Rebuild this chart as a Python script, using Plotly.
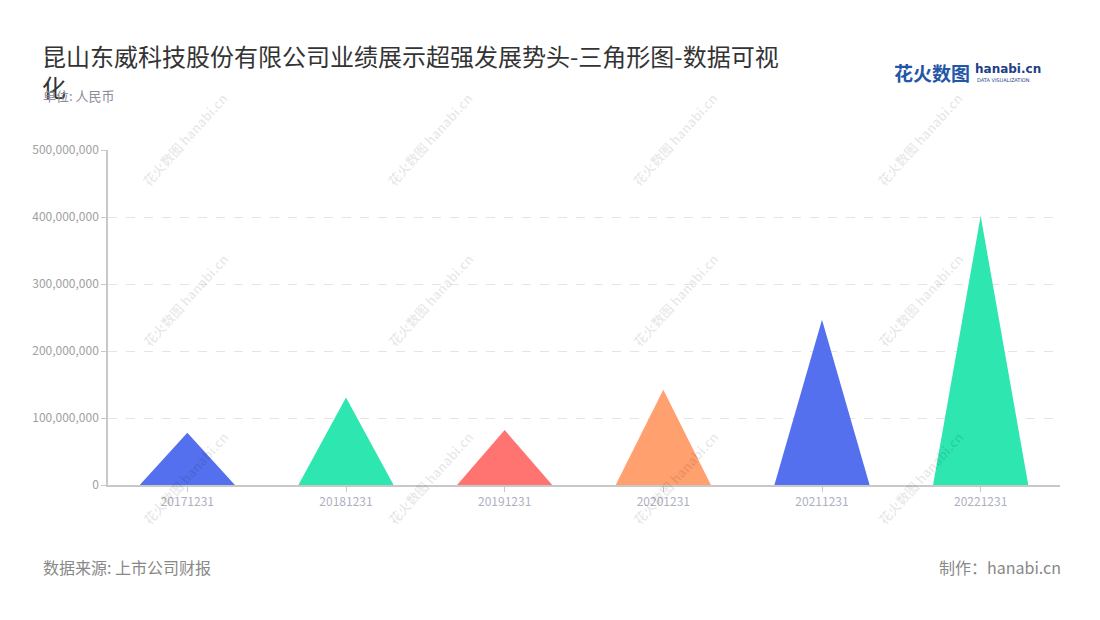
import plotly.graph_objects as go

categories = ["20171231", "20181231", "20191231", "20201231", "20211231", "20221231"]
values = [78000000, 130500000, 82000000, 142000000, 246500000, 401500000]
colors = ["#5470ee", "#2de6b0", "#ff7470", "#ffa06e", "#5470ee", "#2de6b0"]
y_ticks = [0, 100000000, 200000000, 300000000, 400000000, 500000000]

FONT = "Noto Sans CJK SC"
half_width = 0.3

# page offset (body margin) and plot margins
OFF = 8
ML, MR, MT, MB = 100, 48, 142, 143
W, H = 1100, 620
PW = W - ML - MR
PH = H - MT - MB


def px(x):
    return (x - OFF - ML) / PW


def py(y):
    return 1 - (y - OFF - MT) / PH


fig = go.Figure()
for i, (cat, v, c) in enumerate(zip(categories, values, colors)):
    fig.add_trace(go.Scatter(
        x=[i - half_width, i, i + half_width, i - half_width],
        y=[0, v, 0, 0],
        mode="lines",
        fill="toself",
        fillcolor=c,
        line=dict(width=0, color=c),
        hoverinfo="text",
        text=f"{cat}: {v:,}",
        showlegend=False,
    ))

# watermarks
wm_cols = [185, 430, 675, 920]
wm_rows = [140, 300, 478]
for wy in wm_rows:
    for wx in wm_cols:
        fig.add_annotation(
            x=px(wx), y=py(wy), xref="paper", yref="paper",
            text="<b>花火数图</b> <b>hanabi.cn</b>", showarrow=False,
            textangle=-48, font=dict(family=FONT, size=13, color="rgba(0,0,0,0.09)"),
            xanchor="center", yanchor="middle",
        )

fig.update_layout(
    width=W, height=H,
    paper_bgcolor="white", plot_bgcolor="white",
    margin=dict(l=ML, r=MR, t=MT, b=MB),
    font=dict(family=FONT),
    xaxis=dict(
        range=[-0.5, 5.5],
        tickmode="array", tickvals=list(range(len(categories))), ticktext=categories,
        showgrid=False, zeroline=False,
        showline=True, linecolor="#c8c8c8", linewidth=1.5,
        ticks="outside", ticklen=5, tickcolor="#c8c8c8",
        tickfont=dict(family=FONT, size=12, color="#aeb0bf"),
        fixedrange=True,
    ),
    yaxis=dict(
        range=[0, 500000000],
        tickmode="array", tickvals=y_ticks,
        ticktext=[f"{t:,}" for t in y_ticks],
        showgrid=True, gridcolor="#e4e4e4", griddash="dash", gridwidth=1,
        zeroline=False,
        showline=True, linecolor="#c8c8c8", linewidth=1.5,
        ticks="outside", ticklen=5, tickcolor="#c8c8c8",
        tickfont=dict(family=FONT, size=12, color="#a0a0a0"),
        fixedrange=True,
    ),
)

# title
fig.add_annotation(
    x=px(40), y=py(36), xref="paper", yref="paper",
    text="昆山东威科技股份有限公司业绩展示超强发展势头-三角形图-数据可视<br>化",
    showarrow=False, xanchor="left", yanchor="top", align="left",
    font=dict(family=FONT, size=24, color="#333333"),
)
fig.add_annotation(
    x=px(41), y=py(96), xref="paper", yref="paper",
    text="单位: 人民币", showarrow=False, xanchor="left", yanchor="middle",
    font=dict(family=FONT, size=13, color="#8c8c99"),
)
# logo
fig.add_annotation(
    x=px(892), y=py(72), xref="paper", yref="paper",
    text="<b>花火数图</b>", showarrow=False, xanchor="left", yanchor="middle",
    font=dict(family=FONT, size=19, color="#2456a6"),
)
fig.add_annotation(
    x=px(973), y=py(69), xref="paper", yref="paper",
    text="<b>hanabi.cn</b>", showarrow=False, xanchor="left", yanchor="middle",
    font=dict(family="DejaVu Sans", size=12, color="#1d3f86"),
)
fig.add_annotation(
    x=px(975), y=py(80), xref="paper", yref="paper",
    text="DATA VISUALIZATION", showarrow=False, xanchor="left", yanchor="middle",
    font=dict(family="DejaVu Sans", size=5, color="#1d3f86"),
)
# footer
fig.add_annotation(
    x=px(41), y=py(567), xref="paper", yref="paper",
    text="数据来源: 上市公司财报", showarrow=False, xanchor="left", yanchor="middle",
    font=dict(family=FONT, size=16, color="#888888"),
)
fig.add_annotation(
    x=px(1063), y=py(567), xref="paper", yref="paper",
    text="制作：hanabi.cn", showarrow=False, xanchor="right", yanchor="middle",
    font=dict(family=FONT, size=16, color="#888888"),
)

fig.write_html("out.html", config={"displayModeBar": False})
